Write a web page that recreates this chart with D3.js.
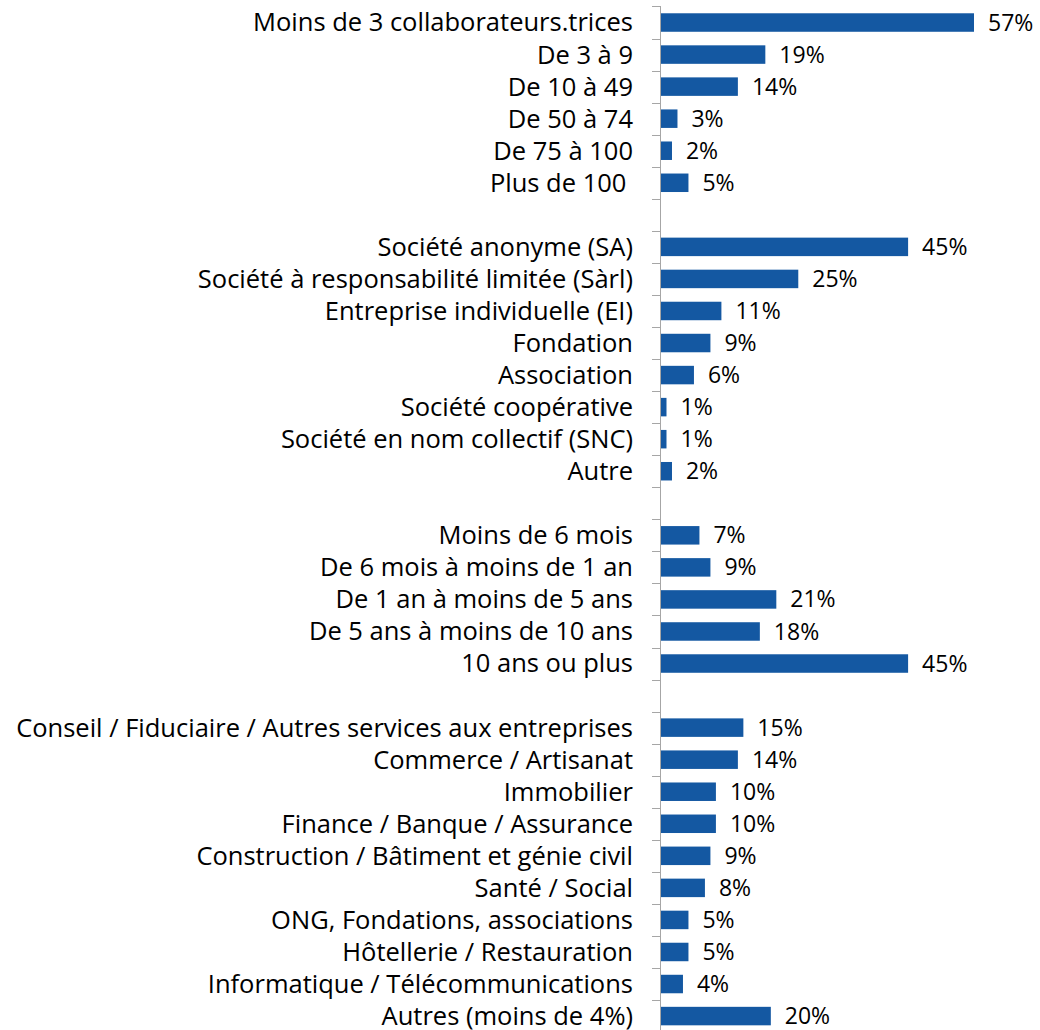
<!DOCTYPE html>
<html>
<head>
<meta charset="utf-8">
<script src="https://cdn.jsdelivr.net/npm/d3@7"></script>
<style>
  body { margin: 0; background: #fff; }
  svg text { font-family: "Open Sans", sans-serif; fill: #000; white-space: pre; }
</style>
</head>
<body>
<svg id="chart" width="1040" height="1030"></svg>
<script>
// category labels, empty strings are the gaps between groups
var categories = [
  'Moins de 3 collaborateurs.trices', 'De 3 à 9', 'De 10 à 49', 'De 50 à 74', 'De 75 à 100', 'Plus de 100 ',
  '',
  'Société anonyme (SA)', 'Société à responsabilité limitée (Sàrl)', 'Entreprise individuelle (EI)',
  'Fondation', 'Association', 'Société coopérative', 'Société en nom collectif (SNC)', 'Autre',
  '',
  'Moins de 6 mois', 'De 6 mois à moins de 1 an', 'De 1 an à moins de 5 ans',
  'De 5 ans à moins de 10 ans', '10 ans ou plus',
  '',
  'Conseil / Fiduciaire / Autres services aux entreprises', 'Commerce / Artisanat', 'Immobilier',
  'Finance / Banque / Assurance', 'Construction / Bâtiment et génie civil', 'Santé / Social',
  'ONG, Fondations, associations', 'Hôtellerie / Restauration', 'Informatique / Télécommunications',
  'Autres (moins de 4%)'
];
var values = [
  57, 19, 14, 3, 2, 5,
  null,
  45, 25, 11, 9, 6, 1, 1, 2,
  null,
  7, 9, 21, 18, 45,
  null,
  15, 14, 10, 10, 9, 8, 5, 5, 4, 20
];

var svg = d3.select('#chart'),
    x0 = 661,
    yTop = 6.5,
    step = 32.05,
    pad = 0.423;

var y = d3.scaleBand()
  .domain(d3.range(categories.length))
  .range([yTop, yTop + step * categories.length])
  .paddingInner(pad)
  .paddingOuter(pad / 2);

var x = d3.scaleLinear()
  .domain([0, 57])
  .range([x0, 974]);

// axis line and ticks on band boundaries
var axis = svg.append('g');
axis.append('line')
  .attr('x1', x0 - 0.5).attr('x2', x0 - 0.5)
  .attr('y1', yTop).attr('y2', 1030)
  .style('stroke', '#a6a6a6');
d3.range(categories.length).forEach(function(i) {
  var yy = Math.round(y(i) - y.step() * pad / 2) + 0.5;
  axis.append('line')
    .attr('x1', x0 - 9).attr('x2', x0)
    .attr('y1', yy).attr('y2', yy)
    .style('stroke', '#a6a6a6');
});

var rows = categories.map(function(c, i) { return { i: i, label: c, v: values[i] }; });

svg.append('g').selectAll('text')
  .data(rows.filter(function(d) { return d.label; }))
  .join('text')
  .attr('x', 633)
  .attr('y', function(d) { return y(d.i) + y.bandwidth() / 2; })
  .attr('dy', '0.35em')
  .attr('text-anchor', 'end')
  .style('font-size', '25.5px')
  .text(function(d) { return d.label; });

var data = rows.filter(function(d) { return d.v != null; });

svg.append('g').selectAll('rect')
  .data(data)
  .join('rect')
  .attr('x', x0)
  .attr('y', function(d) { return y(d.i); })
  .attr('width', function(d) { return x(d.v) - x0; })
  .attr('height', y.bandwidth())
  .style('fill', '#1458a2');

svg.append('g').selectAll('text')
  .data(data)
  .join('text')
  .attr('x', function(d) { return x(d.v) + 14; })
  .attr('y', function(d) { return y(d.i) + y.bandwidth() / 2; })
  .attr('dy', '0.35em')
  .style('font-size', '23px')
  .text(function(d) { return d.v + '%'; });
</script>
</body>
</html>
